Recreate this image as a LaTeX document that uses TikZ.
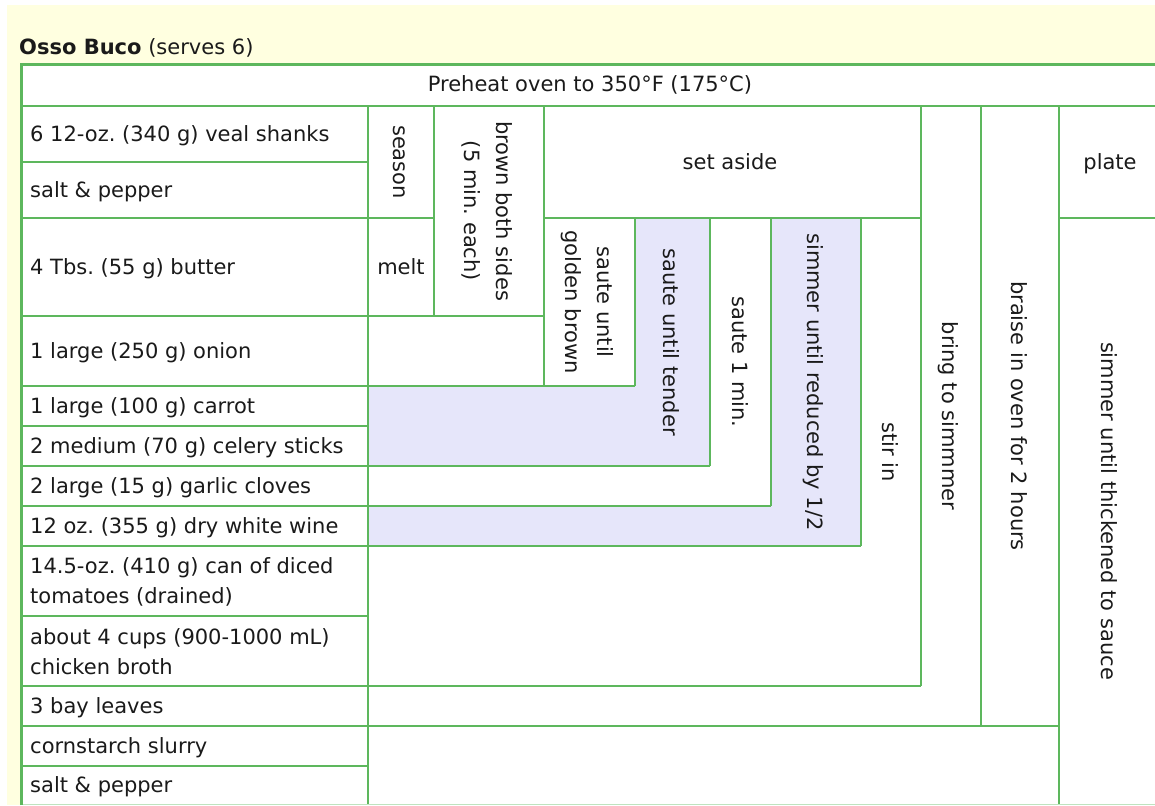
\documentclass[tikz,border=0pt]{standalone}
\usepackage{fontspec}
\setmainfont{DejaVu Sans}
\frenchspacing
\definecolor{bgy}{HTML}{FFFFE0}
\definecolor{gl}{HTML}{5DB75D}
\definecolor{gllight}{HTML}{BFE3BF}
\definecolor{lav}{HTML}{E6E6FA}
\definecolor{tx}{HTML}{1A1A1A}
\tikzset{
  ln/.style={draw=gl, line width=2pt},
  border/.style={draw=gl, line width=3pt},
  t/.style={font=\fontsize{21}{30}\selectfont, text=tx, inner sep=0pt},
  one/.style={t, text height=15pt, text depth=0pt},
  ing/.style={one, anchor=west},
  ingtwo/.style={t, anchor=west, align=left},
  vone/.style={one, rotate=-90},
  vtwo/.style={t, font=\fontsize{21}{32}\selectfont, rotate=-90, align=center},
}
\begin{document}
\begin{tikzpicture}[x=1pt,y=-1pt]
\useasboundingbox (0,0) rectangle (1155,805);
\fill[white] (0,0) rectangle (1155,805);
\fill[bgy] (7,5) rectangle (1155,805);
\node[t, anchor=base west] (title) at (19,55) {\textbf{Osso Buco} (serves 6)};
% table background
\fill[white] (21.5,64.5) rectangle (1165,805);
\fill[lav] (635,218) -- (710,218) -- (710,466) -- (368,466) -- (368,386) -- (635,386) -- cycle;
\fill[lav] (771,218) -- (861,218) -- (861,546) -- (368,546) -- (368,506) -- (771,506) -- cycle;
% grid lines
\foreach \y in {162,218,316,386,426,466,506,546,616,686,726,766}
  \draw[ln] (21.5,\y) -- (368,\y);
\draw[ln] (21.5,106) -- (1165,106);
\draw[ln] (368,106) -- (368,805);
\draw[ln] (368,218) -- (434,218);
\draw[ln] (434,106) -- (434,316);
\draw[ln] (368,316) -- (544,316);
\draw[ln] (544,106) -- (544,386);
\draw[ln] (544,218) -- (921,218);
\draw[ln] (1059,218) -- (1165,218);
\draw[ln] (635,218) -- (635,386);
\draw[ln] (368,386) -- (635,386);
\draw[ln] (710,218) -- (710,466);
\draw[ln] (368,466) -- (710,466);
\draw[ln] (771,218) -- (771,506);
\draw[ln] (368,506) -- (771,506);
\draw[ln] (861,218) -- (861,546);
\draw[ln] (368,546) -- (861,546);
\draw[ln] (921,106) -- (921,686);
\draw[ln] (368,686) -- (921,686);
\draw[ln] (981,106) -- (981,726);
\draw[ln] (368,726) -- (1059,726);
\draw[ln] (1059,106) -- (1059,726);
\draw[ln] (1059,218) -- (1059,805);
\draw[draw=gllight, line width=1.2pt] (21.5,804.4) -- (1165,804.4);
\draw[border] (21.5,805) -- (21.5,64.5) -- (1165,64.5);
% header
\node[one] (preheat) at (590,84) {Preheat oven to 350°F (175°C)};
% ingredients
\node[ing] (i1) at (30,134) {6 12-oz. (340 g) veal shanks};
\node[ing] (i2) at (30,190) {salt \& pepper};
\node[ing] (i3) at (30,267) {4 Tbs. (55 g) butter};
\node[ing] (i4) at (30,351) {1 large (250 g) onion};
\node[ing] (i5) at (30,406) {1 large (100 g) carrot};
\node[ing] (i6) at (30,446) {2 medium (70 g) celery sticks};
\node[ing] (i7) at (30,486) {2 large (15 g) garlic cloves};
\node[ing] (i8) at (30,526) {12 oz. (355 g) dry white wine};
\node[ingtwo] (i9) at (30,582) {14.5-oz. (410 g) can of diced\\tomatoes (drained)};
\node[ingtwo] (i10) at (30,652) {about 4 cups (900-1000 mL)\\chicken broth};
\node[ing] (i11) at (30,706) {3 bay leaves};
\node[ing] (i12) at (30,746) {cornstarch slurry};
\node[ing] (i13) at (30,785) {salt \& pepper};
% steps
\node[vone] (season) at (401,162) {season};
\node[one] (melt) at (401,267) {melt};
\node[vtwo] (brown) at (487,211) {brown both sides\\(5 min. each)};
\node[one] (setaside) at (730,162) {set aside};
\node[one] (plate) at (1110,162) {plate};
\node[vtwo] (golden) at (587,302) {saute until\\golden brown};
\node[vone] (tender) at (671,342) {saute until tender};
\node[vone] (onemin) at (740,362) {saute 1 min.};
\node[vone] (reduce) at (815,382) {simmer until reduced by 1/2};
\node[vone] (stirin) at (890,452) {stir in};
\node[vone] (bring) at (950,416) {bring to simmmer};
\node[vone] (braise) at (1019,416) {braise in oven for 2 hours};
\node[vone] (thicken) at (1109,511) {simmer until thickened to sauce};
\end{tikzpicture}
\end{document}
